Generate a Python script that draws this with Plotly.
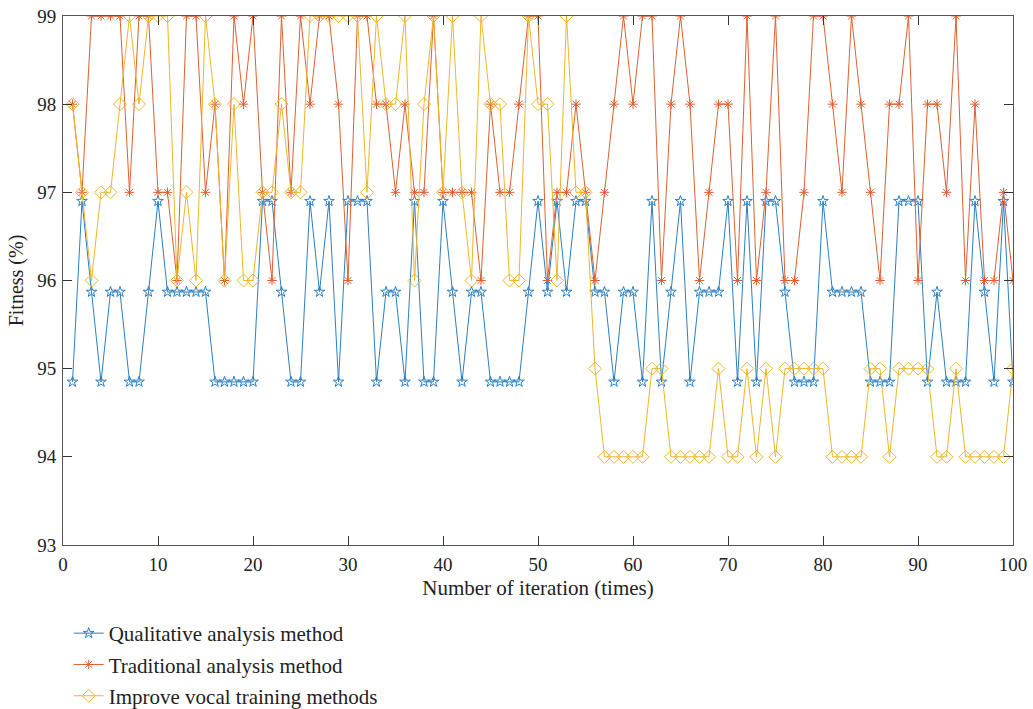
import plotly.graph_objects as go

iterations = list(range(1, 101))

L, M, H = 94.85, 95.87, 96.9
qualitative = [
    L, H, M, L, M, M, L, L, M, H,
    M, M, M, M, M, L, L, L, L, L,
    H, H, M, L, L, H, M, H, L, H,
    H, H, L, M, M, L, H, L, L, H,
    M, L, M, M, L, L, L, L, M, H,
    M, H, M, H, H, M, M, L, M, M,
    L, H, L, M, H, L, M, M, M, H,
    L, H, L, H, H, M, L, L, L, H,
    M, M, M, M, L, L, L, H, H, H,
    L, M, L, L, L, H, M, L, H, L,
]

traditional = [
    98, 97, 99, 99, 99, 99, 97, 99, 99, 97,
    97, 96, 99, 99, 97, 98, 96, 99, 98, 99,
    97, 96, 99, 97, 99, 98, 99, 99, 98, 96,
    99, 99, 98, 98, 97, 98, 97, 97, 99, 97,
    97, 97, 97, 96, 98, 97, 97, 98, 99, 99,
    96, 97, 97, 98, 97, 96, 97, 98, 99, 98,
    99, 99, 96, 98, 99, 98, 96, 97, 98, 98,
    96, 99, 96, 97, 99, 96, 96, 97, 99, 99,
    98, 97, 99, 98, 97, 96, 98, 98, 99, 96,
    98, 98, 97, 99, 96, 98, 96, 96, 97, 96,
]

improved = [
    98, 97, 96, 97, 97, 98, 99, 98, 99, 99,
    99, 96, 97, 96, 99, 98, 96, 98, 96, 96,
    97, 97, 98, 97, 97, 99, 99, 99, 99, 99,
    99, 97, 99, 98, 98, 99, 96, 98, 99, 97,
    99, 97, 96, 99, 98, 98, 96, 96, 99, 98,
    98, 96, 99, 97, 97, 95, 94, 94, 94, 94,
    94, 95, 95, 94, 94, 94, 94, 94, 95, 94,
    94, 95, 94, 95, 94, 95, 95, 95, 95, 95,
    94, 94, 94, 94, 95, 95, 94, 95, 95, 95,
    95, 94, 94, 95, 94, 94, 94, 94, 94, 95,
]

names = ["Qualitative analysis method", "Traditional analysis method",
         "Improve vocal training methods"]
x_ticks = list(range(0, 101, 10))
y_ticks = list(range(93, 100))

FONT = "Liberation Serif"
TXT = "#222222"
blue, orange, yellow = "#2a7fc2", "#dd6030", "#edb52a"

fig = go.Figure()
series = [
    (qualitative, names[0], blue, "star-open", 8),
    (traditional, names[1], orange, "asterisk-open", 8),
    (improved, names[2], yellow, "diamond-open", 10),
]
for i, (vals, name, col, sym, sz) in enumerate(series):
    fig.add_trace(go.Scatter(
        x=iterations, y=vals, name=name, mode="lines+markers",
        line=dict(color=col, width=1),
        marker=dict(symbol=sym, size=sz, color=col, line=dict(color=col, width=1)),
        legendgroup=f"g{i}",
    ))

axis_common = dict(
    showgrid=False, zeroline=False, showline=True, linecolor="#555555",
    linewidth=1, mirror="ticks", ticks="inside", ticklen=9, tickcolor="#333333",
    tickfont=dict(family=FONT, size=19, color=TXT), automargin=False,
)
fig.update_xaxes(range=[0, 100], tickvals=x_ticks, ticklabelstandoff=2,
                 title=dict(text="Number of iteration (times)",
                            font=dict(family=FONT, size=21, color=TXT), standoff=6),
                 **axis_common)
fig.update_yaxes(range=[93, 99], tickvals=y_ticks, ticklabelstandoff=2,
                 title=dict(text="Fitness (%)",
                            font=dict(family=FONT, size=20, color=TXT), standoff=8),
                 **axis_common)

fig.update_layout(
    width=1033, height=709,
    margin=dict(l=63, r=20, t=16, b=164),
    plot_bgcolor="white", paper_bgcolor="white",
    font=dict(family=FONT, size=19, color=TXT),
    legend=dict(x=0.006, xanchor="left", xref="paper",
                y=0.1354, yanchor="top", yref="container",
                orientation="v", traceorder="grouped", tracegroupgap=1,
                font=dict(family=FONT, size=21, color=TXT),
                bgcolor="rgba(0,0,0,0)"),
)

# remove the page's default body margin so the figure fills the window exactly
fig.write_html("out.html",
               config={"displayModeBar": False},
               post_script="document.body.style.margin='0';document.body.style.overflow='hidden';")
